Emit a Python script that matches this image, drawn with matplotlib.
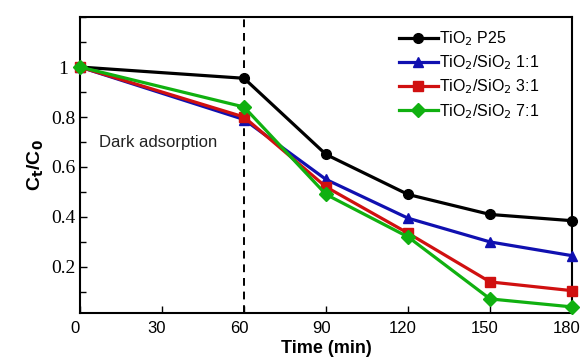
import matplotlib
matplotlib.use("Agg")
import matplotlib.pyplot as plt
import matplotlib.transforms as mtransforms
from matplotlib.ticker import MultipleLocator

# Time points (min) and normalised concentration C_t/C_0 for each sample
time = [0, 60, 90, 120, 150, 180]
p25 = [1.0, 0.955, 0.65, 0.49, 0.41, 0.385]
ts_11 = [1.0, 0.79, 0.55, 0.395, 0.30, 0.245]
ts_31 = [1.0, 0.80, 0.52, 0.335, 0.14, 0.105]
ts_71 = [1.0, 0.84, 0.49, 0.32, 0.072, 0.04]

labels = ["TiO$_2$ P25", "TiO$_2$/SiO$_2$ 1:1",
          "TiO$_2$/SiO$_2$ 3:1", "TiO$_2$/SiO$_2$ 7:1"]
colors = ["#000000", "#1010b0", "#d01010", "#10b010"]
markers = ["o", "^", "s", "D"]

fig = plt.figure(figsize=(5.82, 3.63), dpi=100)
ax = fig.add_axes([0.1375, 0.138, 0.8455, 0.815])

for y, lab, c, m in zip([p25, ts_11, ts_31, ts_71], labels, colors, markers):
    ax.plot(time, y, color=c, marker=m, markersize=7, linewidth=2.3,
            label=lab, clip_on=False, zorder=3)

# dark / light boundary
ax.axvline(60, color="black", linestyle=(0, (4, 3)), linewidth=1.4, zorder=2)
ax.text(7, 0.696, "Dark adsorption", fontsize=12, va="center",
        fontfamily="Liberation Sans", color="#222222")

ax.set_xlim(0, 180)
ax.set_ylim(0.016, 1.2)
ax.set_xticks([0, 30, 60, 90, 120, 150, 180])
ax.set_yticks([0.2, 0.4, 0.6, 0.8, 1.0])
ax.set_yticklabels(["0.2", "0.4", "0.6", "0.8", "1"])
ax.yaxis.set_minor_locator(MultipleLocator(0.1))

ax.tick_params(axis="both", which="both", direction="in", top=False, right=False)
ax.tick_params(axis="x", which="major", length=5, width=1, labelsize=12, pad=6)
ax.tick_params(axis="y", which="major", length=5, width=1, labelsize=14, pad=12)
ax.tick_params(axis="y", which="minor", length=4, width=1)

# x tick labels sit a few pixels left of their ticks in the original
shift = mtransforms.ScaledTranslation(-5 / 100, 0, fig.dpi_scale_trans)
for lab in ax.get_xticklabels():
    lab.set_fontfamily("Liberation Sans")
    lab.set_transform(lab.get_transform() + shift)
for lab in ax.get_yticklabels():
    lab.set_fontfamily("Liberation Serif")
    lab.set_horizontalalignment("center")

for sp in ax.spines.values():
    sp.set_linewidth(1.5)

ax.set_xlabel("Time (min)", fontsize=13, fontweight="bold",
              fontfamily="Liberation Sans", labelpad=3)
ax.set_ylabel("C$_\\mathbf{t}$/C$_\\mathbf{0}$", fontsize=14, fontweight="bold",
              fontfamily="Liberation Sans", labelpad=4)

leg = ax.legend(loc="upper right", bbox_to_anchor=(0.955, 0.997), frameon=False,
                handlelength=2.45, handletextpad=0.05, labelspacing=0.35,
                borderaxespad=0.3, prop={"family": "Liberation Sans", "size": 11.5})

fig.savefig("out.png", dpi=100)
